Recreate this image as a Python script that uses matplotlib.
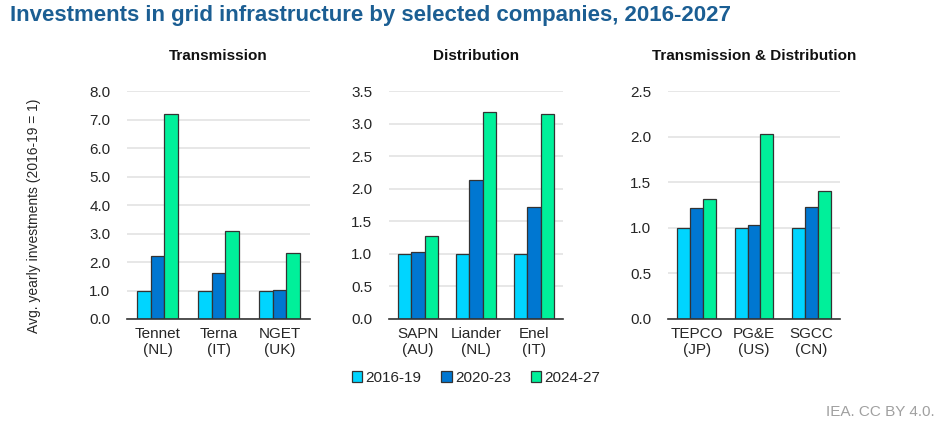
import matplotlib
matplotlib.use("Agg")
import matplotlib.pyplot as plt
from matplotlib.patches import Patch
import numpy as np

plt.rcParams['font.family'] = ['Liberation Sans', 'DejaVu Sans']

# ---- data ----
series = ["2016-19", "2020-23", "2024-27"]
colors = ["#00D5FF", "#0077D1", "#00F09A"]

panel_titles = ["Transmission", "Distribution", "Transmission & Distribution"]

trans_cats = ["Tennet\n(NL)", "Terna\n(IT)", "NGET\n(UK)"]
trans_2016_19 = [1.0, 1.0, 1.0]
trans_2020_23 = [2.2, 1.62, 1.03]
trans_2024_27 = [7.18, 3.1, 2.3]

dist_cats = ["SAPN\n(AU)", "Liander\n(NL)", "Enel\n(IT)"]
dist_2016_19 = [1.0, 1.0, 1.0]
dist_2020_23 = [1.03, 2.14, 1.72]
dist_2024_27 = [1.27, 3.18, 3.14]

td_cats = ["TEPCO\n(JP)", "PG&E\n(US)", "SGCC\n(CN)"]
td_2016_19 = [1.0, 1.0, 1.0]
td_2020_23 = [1.22, 1.03, 1.23]
td_2024_27 = [1.32, 2.03, 1.40]

trans_ticks = [0, 1, 2, 3, 4, 5, 6, 7, 8]
dist_ticks = [0, 0.5, 1.0, 1.5, 2.0, 2.5, 3.0, 3.5]
td_ticks = [0, 0.5, 1.0, 1.5, 2.0, 2.5]

panels = [
    (trans_cats, [trans_2016_19, trans_2020_23, trans_2024_27], trans_ticks),
    (dist_cats, [dist_2016_19, dist_2020_23, dist_2024_27], dist_ticks),
    (td_cats, [td_2016_19, td_2020_23, td_2024_27], td_ticks),
]

fig = plt.figure(figsize=(9.4, 4.3), dpi=100)
W, H = 940, 430

def ax_rect(x0, x1, y0, y1):
    return [x0 / W, 1 - y1 / H, (x1 - x0) / W, (y1 - y0) / H]

rects = [ax_rect(127, 310, 91, 319), ax_rect(389, 563, 91, 319), ax_rect(668, 840, 91, 319)]

txt_col = "#262626"
bw = 0.225
for i, ((cats, vals, ticks), rect, ttl) in enumerate(zip(panels, rects, panel_titles)):
    ax = fig.add_axes(rect)
    x = np.arange(len(cats))
    for j, (v, c) in enumerate(zip(vals, colors)):
        ax.bar(x + (j - 1) * bw, v, width=bw, color=c, edgecolor="#333333",
               linewidth=0.9, zorder=3)
    ax.set_xlim(-0.5, len(cats) - 0.5)
    ax.set_ylim(ticks[0], ticks[-1])
    ax.set_yticks(ticks)
    ax.set_yticklabels([f"{t:.1f}" for t in ticks])
    ax.set_xticks(x)
    ax.set_xticklabels(cats, linespacing=1.15)
    ax.grid(axis="y", color="#e3e3e3", linewidth=1.2, zorder=0)
    ax.set_axisbelow(True)
    for s in ["top", "right", "left"]:
        ax.spines[s].set_visible(False)
    ax.spines["bottom"].set_color("#333333")
    ax.spines["bottom"].set_linewidth(1.2)
    ax.spines["bottom"].set_zorder(4)
    ax.tick_params(axis="both", length=0, labelsize=11, colors=txt_col)
    ax.tick_params(axis="y", pad=12)
    ax.tick_params(axis="x", pad=6)
    cx = (rect[0] + rect[2] / 2)
    fig.text(cx, 1 - 56 / H, ttl, ha="center", va="center", fontsize=11,
             fontweight="bold", color="#111111")
    if i == 1:
        handles = [Patch(facecolor=c, edgecolor="#333333", linewidth=0.9, label=s)
                   for s, c in zip(series, colors)]
        fig.legend(handles=handles, loc="center", bbox_to_anchor=(476 / W, 1 - 378 / H),
                   ncol=3, frameon=False, fontsize=11, handlelength=0.7,
                   handleheight=0.7, handletextpad=0.2, columnspacing=1.3,
                   labelcolor=txt_col)

fig.text(10 / W, 1 - 16 / H,
         "Investments in grid infrastructure by selected companies, 2016-2027",
         ha="left", va="center", fontsize=16, fontweight="bold", color="#1B5E93")
fig.text(34 / W, 1 - 216 / H, "Avg. yearly investments (2016-19 = 1)", rotation=90,
         ha="center", va="center", fontsize=10, color=txt_col)
fig.text(935 / W, 1 - 412 / H, "IEA. CC BY 4.0.", ha="right", va="center",
         fontsize=11, color="#A0A0A0")

fig.savefig("out.png", dpi=100)
